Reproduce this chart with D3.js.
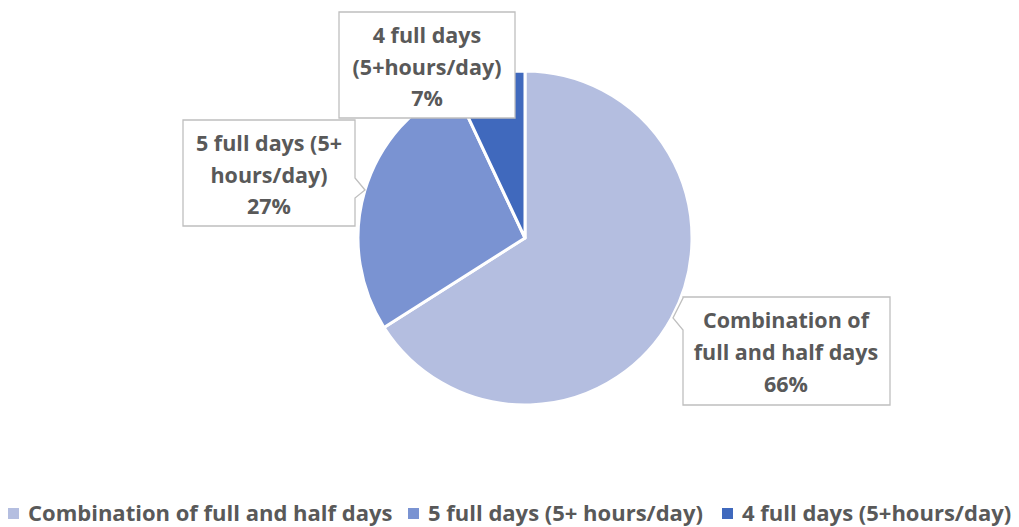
<!DOCTYPE html>
<html><head><meta charset="utf-8">
<script src="https://cdn.jsdelivr.net/npm/d3@7"></script>
<style>
html,body{margin:0;padding:0;background:#fff;}
text{font-family:"Open Sans",sans-serif;font-weight:700;fill:#595959;}
</style></head>
<body><svg id="c" width="1019" height="527"></svg>
<script>
const categories = ["Combination of full and half days", "5 full days (5+ hours/day)", "4 full days (5+hours/day)"];
const values = [66, 27, 7];
const labelLines = [["Combination of", "full and half days"], ["5 full days (5+", "hours/day)"], ["4 full days", "(5+hours/day)"]];
const colors = ["#B4BEE0", "#7A93D2", "#4069BD"];

const svg = d3.select("#c");
const cx = 525, cy = 238, R = 167;
const pie = d3.pie().sort(null).value(d => d)(values);
const arc = d3.arc().innerRadius(0).outerRadius(R);
const g = svg.append("g").attr("transform", `translate(${cx},${cy})`);
g.selectAll("path").data(pie).join("path")
  .attr("d", arc).attr("fill", (d,i) => colors[i])
  .attr("stroke", "#fff").attr("stroke-width", 3).attr("stroke-linejoin","round");

const boxes = [
  {x0:683, y0:297, x1:890, y1:405, side:"left", p:[298, 673, 318, 330], cxT:786, ty:[328, 360, 392]},
  {x0:183, y0:120, x1:355, y1:226, side:"right", p:[178, 365, 190, 198], cxT:269, ty:[151, 183, 214]},
  {x0:339, y0:12, x1:515, y1:118, side:"none", cxT:427, ty:[43, 75, 106]}
];
boxes.forEach((b, i) => {
  let pts;
  if (b.side === "left") {
    pts = [[b.x0,b.y0],[b.x1,b.y0],[b.x1,b.y1],[b.x0,b.y1],[b.x0,b.p[3]],[b.p[1],b.p[2]],[b.x0,b.p[0]]];
  } else if (b.side === "right") {
    pts = [[b.x0,b.y0],[b.x1,b.y0],[b.x1,b.p[0]],[b.p[1],b.p[2]],[b.x1,b.p[3]],[b.x1,b.y1],[b.x0,b.y1]];
  } else {
    pts = [[b.x0,b.y0],[b.x1,b.y0],[b.x1,b.y1],[b.x0,b.y1]];
  }
  svg.append("path").attr("d", d3.line()(pts) + "Z")
    .attr("fill", "#fff").attr("stroke", "#BFBFBF").attr("stroke-width", 1.3);
  const lines = labelLines[i].concat([values[i] + "%"]);
  lines.forEach((t, k) => {
    svg.append("text").attr("x", b.cxT).attr("y", b.ty[k])
      .attr("text-anchor", "middle").attr("font-size", 21.5).text(t);
  });
});

const legendX = [8, 408, 722];
const lg = svg.append("g");
categories.forEach((c, i) => {
  lg.append("rect").attr("x", legendX[i]).attr("y", 508).attr("width", 11).attr("height", 11).attr("fill", colors[i]);
  lg.append("text").attr("x", legendX[i] + 20).attr("y", 521).attr("font-size", 22).text(c);
});
</script></body></html>
